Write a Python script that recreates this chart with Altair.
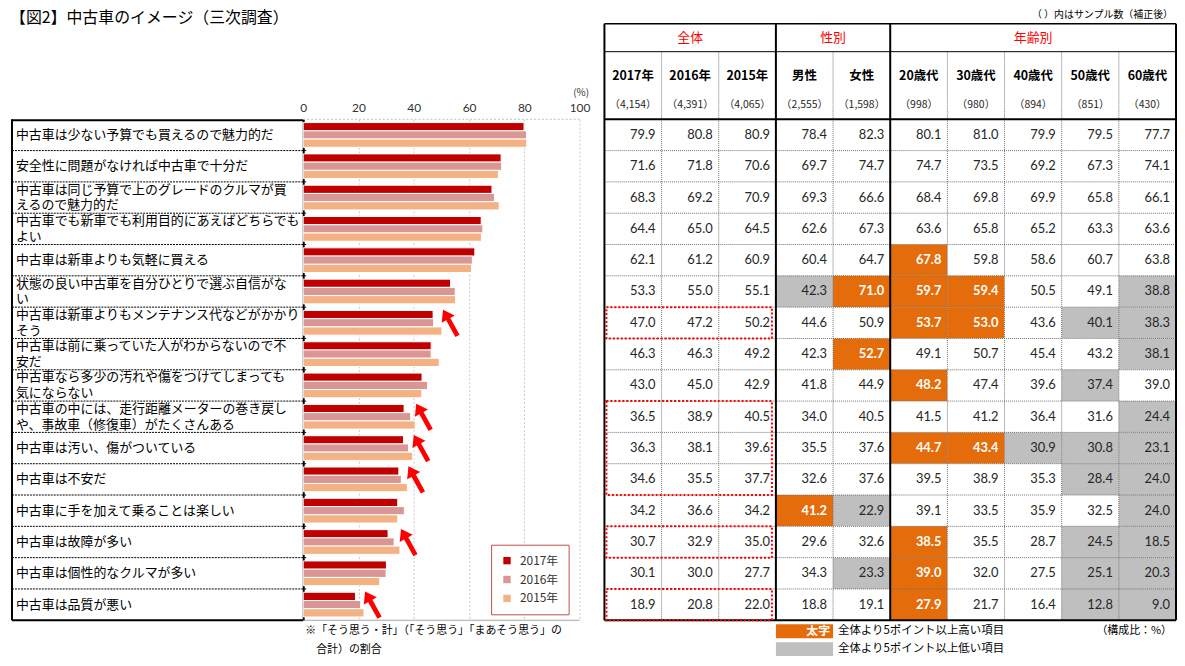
import altair as alt
import pandas as pd

JP = "Noto Sans CJK JP"
NUM = "Lato"

title = "【図2】中古車のイメージ（三次調査）"
note = "（ ）内はサンプル数（補正後）"
unit_note = "（構成比：%）"
footnote_lines = ["※「そう思う・計」（「そう思う」「まあそう思う」の", "合計）の割合"]

categories = [
    "中古車は少ない予算でも買えるので魅力的だ",
    "安全性に問題がなければ中古車で十分だ",
    "中古車は同じ予算で上のグレードのクルマが買\nえるので魅力的だ",
    "中古車でも新車でも利用目的にあえばどちらでも\nよい",
    "中古車は新車よりも気軽に買える",
    "状態の良い中古車を自分ひとりで選ぶ自信がな\nい",
    "中古車は新車よりもメンテナンス代などがかかり\nそう",
    "中古車は前に乗っていた人がわからないので不\n安だ",
    "中古車なら多少の汚れや傷をつけてしまっても\n気にならない",
    "中古車の中には、走行距離メーターの巻き戻し\nや、事故車（修復車）がたくさんある",
    "中古車は汚い、傷がついている",
    "中古車は不安だ",
    "中古車に手を加えて乗ることは楽しい",
    "中古車は故障が多い",
    "中古車は個性的なクルマが多い",
    "中古車は品質が悪い",
]

years = ["2017年", "2016年", "2015年"]
col_names = ["2017年", "2016年", "2015年", "男性", "女性", "20歳代", "30歳代", "40歳代", "50歳代", "60歳代"]
samples = ["（4,154）", "（4,391）", "（4,065）", "（2,555）", "（1,598）", "（998）", "（980）", "（894）", "（851）", "（430）"]
groups = ["全体", "性別", "年齢別"]
group_cols = [3, 2, 5]  # number of columns in each group

v2017 = [79.9, 71.6, 68.3, 64.4, 62.1, 53.3, 47.0, 46.3, 43.0, 36.5, 36.3, 34.6, 34.2, 30.7, 30.1, 18.9]
v2016 = [80.8, 71.8, 69.2, 65.0, 61.2, 55.0, 47.2, 46.3, 45.0, 38.9, 38.1, 35.5, 36.6, 32.9, 30.0, 20.8]
v2015 = [80.9, 70.6, 70.9, 64.5, 60.9, 55.1, 50.2, 49.2, 42.9, 40.5, 39.6, 37.7, 34.2, 35.0, 27.7, 22.0]
male = [78.4, 69.7, 69.3, 62.6, 60.4, 42.3, 44.6, 42.3, 41.8, 34.0, 35.5, 32.6, 41.2, 29.6, 34.3, 18.8]
female = [82.3, 74.7, 66.6, 67.3, 64.7, 71.0, 50.9, 52.7, 44.9, 40.5, 37.6, 37.6, 22.9, 32.6, 23.3, 19.1]
age20 = [80.1, 74.7, 68.4, 63.6, 67.8, 59.7, 53.7, 49.1, 48.2, 41.5, 44.7, 39.5, 39.1, 38.5, 39.0, 27.9]
age30 = [81.0, 73.5, 69.8, 65.8, 59.8, 59.4, 53.0, 50.7, 47.4, 41.2, 43.4, 38.9, 33.5, 35.5, 32.0, 21.7]
age40 = [79.9, 69.2, 69.9, 65.2, 58.6, 50.5, 43.6, 45.4, 39.6, 36.4, 30.9, 35.3, 35.9, 28.7, 27.5, 16.4]
age50 = [79.5, 67.3, 65.8, 63.3, 60.7, 49.1, 40.1, 43.2, 37.4, 31.6, 30.8, 28.4, 32.5, 24.5, 25.1, 12.8]
age60 = [77.7, 74.1, 66.1, 63.6, 63.8, 38.8, 38.3, 38.1, 39.0, 24.4, 23.1, 24.0, 24.0, 18.5, 20.3, 9.0]

# H = 5pt or more above total (orange), L = 5pt or more below (gray)
flags = [
    "----------", "----------", "----------", "----------",
    "-----H----", "---LHHH--L", "-----HH-LL", "----H----L",
    "-----H--L-", "---------L", "-----HHLLL", "--------LL",
    "---HL----L", "-----H--LL", "----LH--LL", "-----H--LL",
]
# rows marked with red dotted boxes and arrows
marked = [6, 9, 10, 11, 13, 15]

legend_items = [("H", "太字", "全体より5ポイント以上高い項目"), ("L", "", "全体より5ポイント以上低い項目")]

BAR_COLORS = ["#C00000", "#D99694", "#F4B183"]
ORANGE = "#E46C0A"
GRAY = "#BFBFBF"
RED = "#FF0000"

W_BAR, W_TAB, H = 278, 575, 504
rows = list(range(16))
one = pd.DataFrame({"k": [0]})

# ---------------- left: labels + bars ----------------
yband = alt.Scale(domain=rows, paddingInner=0, paddingOuter=0)
xbar = alt.Scale(domain=[0, 100], nice=False)

bar_df = pd.DataFrame([
    {"row": r, "year": y, "value": v}
    for r in rows for y, v in zip(years, (v2017[r], v2016[r], v2015[r]))
])

bars = alt.Chart(bar_df).mark_bar(stroke="white", strokeWidth=1).encode(
    x=alt.X("value:Q", scale=xbar, axis=alt.Axis(
        orient="top", values=[0, 20, 40, 60, 80, 100], ticks=False, domain=False,
        labelPadding=5, labelFont=NUM, labelFontSize=12, labelColor="#333333", labelFlush=False,
        gridColor="#C8C8C8", gridDash=[2, 2], title="(%)", titleX=W_BAR + 9, titleY=-27,
        titleAlign="right", titleBaseline="middle", titleFont=JP, titleFontSize=10,
        titleFontWeight="normal", titleColor="#333333")),
    y=alt.Y("row:O", scale=yband, axis=alt.Axis(labels=False, ticks=False, title=None,
                                                 domainColor="black", domainWidth=2, grid=False)),
    yOffset=alt.YOffset("year:N", sort=years, scale=alt.Scale(domain=years, paddingInner=0, paddingOuter=0.4)),
    color=alt.Color("year:N", sort=years, scale=alt.Scale(domain=years, range=BAR_COLORS),
                    legend=alt.Legend(title=None, orient="none", legendX=189, legendY=428,
                                      direction="vertical", symbolType="square", symbolSize=55,
                                      symbolStrokeWidth=0, labelFont=JP, labelFontSize=12,
                                      labelColor="#333333", rowPadding=7, padding=10,
                                      strokeColor="#C0504D", fillColor="white", labelOffset=7)),
)

lab_df = pd.DataFrame({"row": rows, "label": categories,
                       "two": ["\n" in c for c in categories]})
labels1 = alt.Chart(lab_df).transform_filter("!datum.two").mark_text(
    align="left", baseline="middle", font=JP, fontSize=13, color="black"
).encode(x=alt.value(-289), y=alt.Y("row:O", scale=yband), text="label:N")
labels2 = alt.Chart(lab_df).transform_filter("datum.two").mark_text(
    align="left", baseline="middle", font=JP, fontSize=13, lineBreak="\n", lineHeight=16,
    color="black", dy=-8
).encode(x=alt.value(-289), y=alt.Y("row:O", scale=yband), text="label:N")

seps = alt.Chart(pd.DataFrame({"row": rows[1:]})).mark_rule(
    color="black", strokeDash=[2, 1], strokeWidth=1
).encode(y=alt.Y("row:O", scale=yband, bandPosition=0), x=alt.value(-293), x2=alt.value(4))

box_left = alt.Chart(one).mark_rule(color="black", strokeWidth=2).encode(
    x=alt.value(-293), y=alt.value(0), y2=alt.value(H))
box_top = alt.Chart(one).mark_rule(color="black", strokeWidth=2).encode(
    x=alt.value(-293), x2=alt.value(0), y=alt.value(1))
box_bot = alt.Chart(one).mark_rule(color="black", strokeWidth=2).encode(
    x=alt.value(-293), x2=alt.value(0), y=alt.value(H))
plot_top = alt.Chart(one).mark_rule(color="#BFBFBF", strokeWidth=1, strokeDash=[2, 2]).encode(
    x=alt.value(0), x2=alt.value(W_BAR), y=alt.value(0))
plot_bot = alt.Chart(one).mark_rule(color="#A6A6A6", strokeWidth=1).encode(
    x=alt.value(0), x2=alt.value(W_BAR), y=alt.value(H))

ARROW = "M0,-1 L0.5,-0.28 L0.16,-0.28 L0.16,1 L-0.16,1 L-0.16,-0.28 L-0.5,-0.28 Z"
arr_df = pd.DataFrame({"row": marked, "x": [v2015[r] + 3 for r in marked]})
arrows = alt.Chart(arr_df).mark_point(
    shape=ARROW, size=900, filled=True, color=RED, opacity=1, angle=331, strokeWidth=0
).encode(x=alt.X("x:Q", scale=xbar), y=alt.Y("row:O", scale=yband))

title_t = alt.Chart(pd.DataFrame({"t": [title]})).mark_text(
    align="left", baseline="top", font=JP, fontSize=16, color="black"
).encode(x=alt.value(-295), y=alt.value(-110), text="t:N")

foot1 = alt.Chart(pd.DataFrame({"t": [footnote_lines[0]]})).mark_text(
    align="left", baseline="middle", font=JP, fontSize=11, color="black"
).encode(x=alt.value(2), y=alt.value(515), text="t:N")
foot2 = alt.Chart(pd.DataFrame({"t": [footnote_lines[1]]})).mark_text(
    align="left", baseline="middle", font=JP, fontSize=11, color="black"
).encode(x=alt.value(13), y=alt.value(534), text="t:N")

left = alt.layer(
    title_t, labels1, labels2, seps, box_left, box_top, box_bot, plot_top, plot_bot, bars, arrows, foot1, foot2
).properties(width=W_BAR, height=H)

# ---------------- right: table ----------------
xs = alt.Scale(domain=[0, 10], nice=False, zero=False)
ys = alt.Scale(domain=[0, 16], reverse=True, nice=False, zero=False)
cols_vals = [v2017, v2016, v2015, male, female, age20, age30, age40, age50, age60]

cell_df = pd.DataFrame([
    {"r": r, "r1": r + 1, "rm": r + 0.5, "c": c, "c1": c + 1, "v": cols_vals[c][r],
     "flag": flags[r][c] if flags[r][c] in "HL" else "N"}
    for r in rows for c in range(10)
])

cells = alt.Chart(cell_df).mark_rect(strokeWidth=0).encode(
    x=alt.X("c:Q", scale=xs, axis=None), x2="c1:Q",
    y=alt.Y("r:Q", scale=ys, axis=None), y2="r1:Q",
    fill=alt.Fill("flag:N", scale=alt.Scale(domain=["H", "L", "N"], range=[ORANGE, GRAY, "white"]), legend=None),
)
txt_n = alt.Chart(cell_df).transform_filter("datum.flag != 'H'").mark_text(
    align="right", baseline="middle", dx=-6, font=NUM, fontSize=13, color="#262626"
).encode(x=alt.X("c1:Q", scale=xs, axis=None), y=alt.Y("rm:Q", scale=ys, axis=None),
         text=alt.Text("v:Q", format=".1f"))
txt_h = alt.Chart(cell_df).transform_filter("datum.flag == 'H'").mark_text(
    align="right", baseline="middle", dx=-6, font=NUM, fontSize=13, color="white", fontWeight="bold"
).encode(x=alt.X("c1:Q", scale=xs, axis=None), y=alt.Y("rm:Q", scale=ys, axis=None),
         text=alt.Text("v:Q", format=".1f"))

hsep = alt.Chart(pd.DataFrame({"b": rows[1:]})).mark_rule(color="#707070", strokeDash=[1, 1]).encode(
    y=alt.Y("b:Q", scale=ys, axis=None), x=alt.value(0), x2=alt.value(W_TAB))

bounds_all = list(range(11))
thick = [0]
acc = 0
for g in group_cols:
    acc += g
    thick.append(acc)
thin = [b for b in bounds_all if b not in thick]

vthin = alt.Chart(pd.DataFrame({"b": thin})).mark_rule(color="#707070", strokeDash=[1, 1]).encode(
    x=alt.X("b:Q", scale=xs, axis=None), y=alt.value(-68), y2=alt.value(H))
vthick = alt.Chart(pd.DataFrame({"b": thick})).mark_rule(color="black", strokeWidth=2).encode(
    x=alt.X("b:Q", scale=xs, axis=None), y=alt.value(-96), y2=alt.value(H))

hlines = []
for yy, sw in [(-96, 1.5), (-68, 1), (0, 2), (H, 2)]:
    hlines.append(alt.Chart(one).mark_rule(color="black", strokeWidth=sw).encode(
        x=alt.value(0), x2=alt.value(W_TAB), y=alt.value(yy)))

# red dotted boxes from contiguous marked rows
boxes = []
for r in marked:
    if boxes and boxes[-1][1] == r:
        boxes[-1][1] = r + 1
    else:
        boxes.append([r, r + 1])
box_df = pd.DataFrame({"r": [b[0] for b in boxes], "r1": [b[1] for b in boxes], "c": 0, "c1": 3})
redbox = alt.Chart(box_df).mark_rect(
    fillOpacity=0, stroke=RED, strokeWidth=2, strokeDash=[2, 2], xOffset=2, x2Offset=-4
).encode(
    x=alt.X("c:Q", scale=xs, axis=None), x2="c1:Q", y=alt.Y("r:Q", scale=ys, axis=None), y2="r1:Q")

hdr_df = pd.DataFrame({"m": [c + 0.5 for c in range(10)], "name": col_names, "n": samples})
names_t = alt.Chart(hdr_df).mark_text(font=JP, fontSize=12.5, fontWeight="bold", color="black", baseline="middle").encode(
    x=alt.X("m:Q", scale=xs, axis=None), y=alt.value(-44), text="name:N")
samp_t = alt.Chart(hdr_df).mark_text(font=JP, fontSize=10.5, color="#262626", baseline="middle").encode(
    x=alt.X("m:Q", scale=xs, axis=None), y=alt.value(-14), text="n:N")
gmid = []
acc = 0
for g in group_cols:
    gmid.append(acc + g / 2)
    acc += g
grp_t = alt.Chart(pd.DataFrame({"g": groups, "m": gmid})).mark_text(
    font=JP, fontSize=13, color=RED, baseline="middle").encode(
    x=alt.X("m:Q", scale=xs, axis=None), y=alt.value(-82), text="g:N")
note_t = alt.Chart(pd.DataFrame({"t": [note], "x": [10]})).mark_text(
    font=JP, fontSize=10, color="black", align="right", baseline="top", dx=-3).encode(
    x=alt.X("x:Q", scale=xs, axis=None), y=alt.value(-110), text="t:N")

leg_layers = []
for k, (key, lab, desc) in enumerate(legend_items):
    d = pd.DataFrame({"lab": [lab], "desc": [desc], "c": [3], "c1": [4]})
    y0 = 508 + 18 * k
    leg_layers.append(alt.Chart(d).mark_rect(color=ORANGE if key == "H" else GRAY).encode(
        x=alt.X("c:Q", scale=xs, axis=None), x2="c1:Q", y=alt.value(y0), y2=alt.value(y0 + 14)))
    if lab:
        leg_layers.append(alt.Chart(d).mark_text(
            font=JP, fontSize=12, fontWeight="bold", color="white", align="right", baseline="middle", dx=-3).encode(
            x=alt.X("c1:Q", scale=xs, axis=None), y=alt.value(y0 + 7), text="lab:N"))
    leg_layers.append(alt.Chart(d).mark_text(
        font=JP, fontSize=11.5, color="black", align="left", baseline="middle", dx=5).encode(
        x=alt.X("c1:Q", scale=xs, axis=None), y=alt.value(y0 + 7), text="desc:N"))

unit_t = alt.Chart(pd.DataFrame({"t": [unit_note], "x": [10]})).mark_text(
    font=JP, fontSize=11, color="black", align="right", baseline="middle", dx=-4).encode(
    x=alt.X("x:Q", scale=xs, axis=None), y=alt.value(515), text="t:N")

table = alt.layer(
    cells, hsep, vthin, *hlines, vthick, redbox, txt_n, txt_h, names_t, samp_t, grp_t, note_t,
    *leg_layers, unit_t
).properties(width=W_TAB, height=H)

chart = alt.hconcat(left, table, spacing=25, bounds="flush").resolve_scale(
    color="independent", fill="independent", x="independent", y="independent"
).properties(
    padding={"left": 2, "top": 0, "right": 0, "bottom": 0}, background="white"
).configure_view(strokeWidth=0)

chart.save("out.html", embed_options={"renderer": "svg", "actions": False})
